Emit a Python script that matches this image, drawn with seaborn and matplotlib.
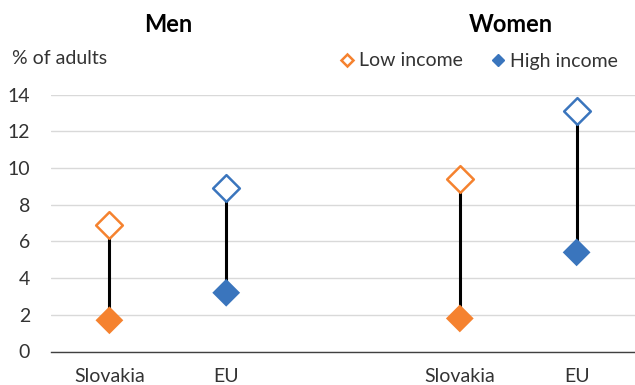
import matplotlib
matplotlib.use("Agg")
import matplotlib.pyplot as plt
import seaborn as sns
import pandas as pd
from matplotlib.lines import Line2D

# ---- data ----
groups = ["Men", "Men", "Women", "Women"]
countries = ["Slovakia", "EU", "Slovakia", "EU"]
low_income = [6.9, 8.9, 9.4, 13.1]
high_income = [1.7, 3.2, 1.8, 5.4]
slot = [0, 1, 3, 4]          # category slots (slot 2 is the gap between panels)
yticks = [0, 2, 4, 6, 8, 10, 12, 14]

ORANGE = "#F5822F"
BLUE = "#3A75BD"
TEXT = "#333333"
country_color = {"Slovakia": ORANGE, "EU": BLUE}

df = pd.DataFrame({"group": groups, "country": countries, "slot": slot,
                   "low": low_income, "high": high_income})

sns.set_theme(style="white")
plt.rcParams["font.family"] = ["Lato", "DejaVu Sans"]

fig = plt.figure(figsize=(6.35, 3.85), dpi=100)
ax = fig.add_axes([51/635, 33.5/385, 584/635, 257/385])

# connecting lines
ax.vlines(df["slot"], df["high"], df["low"], color="black", lw=2.2, zorder=2)

# high income (filled)
sns.scatterplot(data=df, x="slot", y="high", hue="country", palette=country_color,
                marker="D", s=200, linewidth=0, legend=False, ax=ax, zorder=3)
# low income (hollow)
for c, sub in df.groupby("country"):
    ax.scatter(sub["slot"], sub["low"], marker="D", s=185, facecolor="white",
               edgecolor=country_color[c], linewidth=1.8, zorder=3)

ax.set_xlim(-0.5, 4.5)
ax.set_ylim(0, 14)
ax.set_yticks(yticks)
ax.set_yticklabels([str(t) for t in yticks], fontsize=14, color=TEXT)
ax.set_xticks(df["slot"])
ax.set_xticklabels(df["country"], fontsize=14, color=TEXT)
ax.tick_params(axis="x", length=0, pad=12)
ax.tick_params(axis="y", length=0, pad=15)
ax.grid(axis="y", color="#D9D9D9", lw=1)
ax.set_axisbelow(True)
for s in ["top", "right", "left"]:
    ax.spines[s].set_visible(False)
ax.spines["bottom"].set_color("#404040")
ax.spines["bottom"].set_linewidth(1)
ax.set_xlabel("")
ax.set_ylabel("")

# panel titles
title_y = (385 - 32 - 33.5) / 257
title_shift = {"Men": 0.0, "Women": -0.06}
for g in ["Men", "Women"]:
    xc = df.loc[df["group"] == g, "slot"].mean() + title_shift[g]
    ax.text(xc, title_y, g, transform=ax.get_xaxis_transform(), ha="center",
            va="baseline", fontsize=17, fontweight="bold", color="black")

fig.text(12/635, 1 - 59/385, "% of adults", fontsize=14, color=TEXT,
         ha="left", va="center")

handles = [Line2D([], [], marker="D", ls="none", markersize=6.5, markerfacecolor="white",
                  markeredgecolor=ORANGE, markeredgewidth=1.8, label="Low income"),
           Line2D([], [], marker="D", ls="none", markersize=6.5, markerfacecolor=BLUE,
                  markeredgecolor=BLUE, label="High income")]
fig.legend(handles=handles, loc="center right", bbox_to_anchor=(1.0, 1 - 61/385),
           ncol=2, frameon=False, fontsize=14, handletextpad=0.1, columnspacing=1.3,
           handlelength=1.0, labelcolor=TEXT)

fig.savefig("out.png", dpi=100)
